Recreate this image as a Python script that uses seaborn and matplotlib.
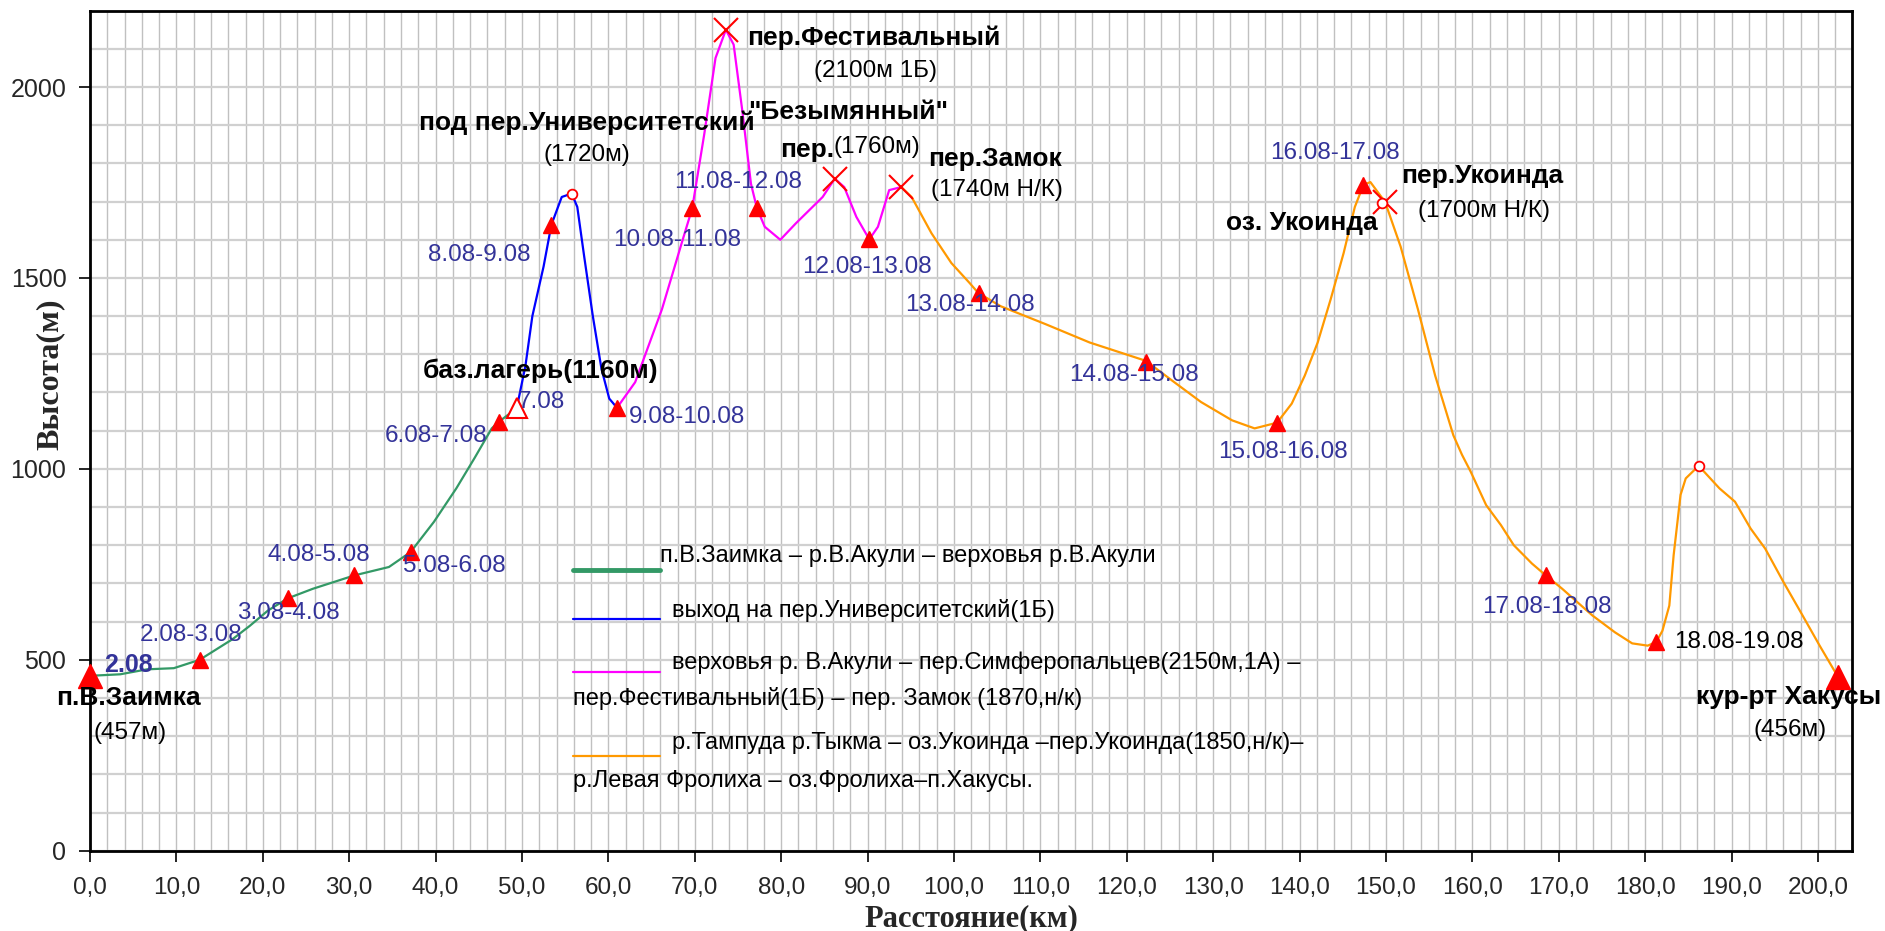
import matplotlib
matplotlib.use('Agg')
import matplotlib.pyplot as plt
import seaborn as sns
from matplotlib.lines import Line2D
from matplotlib.ticker import MultipleLocator, FuncFormatter

# profile segments (distance km, altitude m)
green_km = [0, 3.5, 6.6, 9.7, 12.7, 16.5, 18.5, 20.6, 22.9, 25.8, 30.6, 34.6, 37.1,
            39.8, 42.4, 44.5, 46.5, 47.3, 48.3, 49.4]
green_alt = [458, 462, 475, 478, 500, 554, 589, 629, 661, 686, 721, 743, 782,
             861, 949, 1028, 1106, 1123, 1140, 1160]

blue_km = [49.4, 50.4, 51.2, 52.5, 53.4, 54.6, 55.75, 56.4, 57.2, 58.2, 59.2, 60.1, 61.0]
blue_alt = [1160, 1270, 1400, 1530, 1639, 1712, 1721, 1686, 1556, 1400, 1262, 1184, 1160]

magenta_km = [61.0, 63.1, 66.2, 68.6, 69.7, 71.1, 72.4, 73.6, 74.5, 75.5, 76.5, 77.2, 78.1,
              79.9, 81.7, 84.8, 86.2, 87.3, 88.7, 90.2, 91.2, 92.5, 93.9]
magenta_alt = [1160, 1227, 1418, 1600, 1682, 1877, 2076, 2150, 2111, 1938, 1747, 1682, 1634,
               1600, 1643, 1712, 1760, 1738, 1660, 1601, 1634, 1730, 1738]

orange_km = [93.9, 95.1, 97.4, 99.7, 101.8, 102.8, 105.4, 110.6, 115.7, 122.2, 125.5, 128.6,
             132.2, 134.8, 137.4, 139.1, 140.6, 142.1, 143.6, 145.1, 146.4, 147.4, 148.2,
             149.9, 151.7, 153.7, 155.7, 157.8, 158.8, 159.8, 161.6, 163.3, 164.8, 166.9,
             168.5, 170.4, 173.9, 176.5, 178.5, 180.3, 181.3, 182.0, 182.8, 183.3, 184.1,
             184.7, 186.2, 188.6, 190.4, 192.2, 193.9, 196.0, 198.0, 200.2, 202.3]
orange_alt = [1738, 1712, 1617, 1539, 1487, 1461, 1426, 1379, 1331, 1283, 1227, 1175,
              1127, 1106, 1121, 1171, 1244, 1331, 1444, 1565, 1686, 1744, 1751,
              1699, 1582, 1418, 1244, 1088, 1037, 993, 905, 853, 800, 752,
              721, 686, 616, 572, 543, 537, 547, 576, 642, 774, 932,
              975, 1008, 949, 914, 844, 791, 704, 625, 537, 456]

# overnight stops
stop_km = [12.7, 22.9, 30.6, 37.1, 47.3, 53.4, 61.0, 69.7, 77.2, 90.2, 102.9, 122.2,
           137.4, 147.4, 168.5, 181.3]
stop_alt = [500, 661, 721, 782, 1123, 1639, 1160, 1682, 1682, 1601, 1460, 1280,
            1121, 1744, 721, 547]
end_km = [0, 202.3]
end_alt = [458, 456]
camp_km = [49.4]
camp_alt = [1160]
pass_km = [73.6, 86.2, 93.9, 149.9]
pass_alt = [2150, 1760, 1738, 1699]
peak_km = [55.75, 149.6, 186.2]
peak_alt = [1721, 1695, 1008]

# date labels
date_text = ['2.08-3.08', '3.08-4.08', '4.08-5.08', '5.08-6.08', '6.08-7.08', '7.08',
             '8.08-9.08', '9.08-10.08', '10.08-11.08', '11.08-12.08', '12.08-13.08',
             '13.08-14.08', '14.08-15.08', '15.08-16.08', '16.08-17.08', '17.08-18.08']
date_km = [11.7, 23.0, 26.5, 42.2, 40.1, 52.2, 45.0, 69.1, 68.0, 75.0, 89.9,
           101.8, 120.8, 138.1, 144.1, 168.6]
date_alt = [566, 623, 774, 746, 1086, 1175, 1561, 1135, 1600, 1750, 1528,
            1430, 1245, 1043, 1826, 638]

# place names (bold) and heights (normal)
name_text = ['п.В.Заимка', 'баз.лагерь(1160м)', 'под пер.Университетский', 'пер.Фестивальный',
             '"Безымянный"', 'пер.Замок', 'оз. Укоинда', 'пер.Укоинда', 'кур-рт Хакусы']
name_km = [4.4, 52.1, 57.5, 90.7, 87.7, 104.8, 140.3, 161.1, 196.6]
name_alt = [399, 1257, 1907, 2130, 1934, 1811, 1643, 1768, 403]
height_text = ['(457м)', '(1720м)', '(2100м 1Б)', '(1740м Н/К)', '(1700м Н/К)', '(456м)']
height_km = [4.6, 57.5, 90.9, 105.0, 161.3, 196.8]
height_alt = [308, 1822, 2043, 1730, 1676, 316]

legend_labels = ['п.В.Заимка – р.В.Акули – верховья р.В.Акули',
                 'выход на пер.Университетский(1Б)',
                 'верховья р. В.Акули – пер.Симферопальцев(2150м,1А) –',
                 'пер.Фестивальный(1Б) – пер. Замок (1870,н/к)',
                 'р.Тампуда р.Тыкма – оз.Укоинда –пер.Укоинда(1850,н/к)–',
                 'р.Левая Фролиха – оз.Фролиха–п.Хакусы.']

GREEN = '#339966'
BLUE = '#0000ff'
MAGENTA = '#ff00ff'
ORANGE = '#ff9900'
DATE_BLUE = '#333399'

sns.set_theme(style='white')
plt.rcParams['font.family'] = ['Liberation Sans', 'DejaVu Sans']

fig = plt.figure(figsize=(18.85, 9.31), dpi=100)
ax = fig.add_axes([0.04775, 0.08625, 0.935, 0.9023])

for xs, ys, c in [(green_km, green_alt, GREEN), (blue_km, blue_alt, BLUE),
                  (magenta_km, magenta_alt, MAGENTA), (orange_km, orange_alt, ORANGE)]:
    sns.lineplot(x=xs, y=ys, ax=ax, color=c, linewidth=1.6, sort=False, estimator=None, zorder=3)

ax.plot(stop_km, stop_alt, ls='none', marker='^', color='red', ms=11, zorder=5)
ax.plot(end_km, end_alt, ls='none', marker='^', color='red', ms=17, zorder=5, clip_on=False)
ax.plot(camp_km, camp_alt, ls='none', marker='^', mfc='white', mec='red', mew=1.5, ms=15, zorder=5)
ax.plot(pass_km, pass_alt, ls='none', marker='x', color='red', ms=17, mew=1.5, zorder=5)
ax.plot(peak_km, peak_alt, ls='none', marker='o', mfc='white', mec='red', mew=1.3, ms=7, zorder=6)

for s, x, y in zip(date_text, date_km, date_alt):
    ax.text(x, y, s, color=DATE_BLUE, fontsize=17.5, ha='center', va='center', zorder=7)
ax.text(4.5, 486, '2.08', color=DATE_BLUE, fontsize=18, fontweight='bold', ha='center', va='center')
ax.text(190.9, 547, '18.08-19.08', color='black', fontsize=17.5, ha='center', va='center')

for s, x, y in zip(name_text, name_km, name_alt):
    ax.text(x, y, s, color='black', fontsize=19, fontweight='bold', ha='center', va='center', zorder=7)
for s, x, y in zip(height_text, height_km, height_alt):
    ax.text(x, y, s, color='black', fontsize=17.5, ha='center', va='center', zorder=7)
ax.text(86.1, 1835, 'пер.', color='black', fontsize=19, fontweight='bold', ha='right', va='center')
ax.text(86.1, 1842, '(1760м)', color='black', fontsize=17.5, ha='left', va='center')

# legend drawn like the spreadsheet one
tr = ax.transAxes
leg_lines = [(0.3342, GREEN, 3.5), (0.2755, BLUE, 1.6), (0.2131, MAGENTA, 1.6), (0.1127, ORANGE, 1.6)]
for y, c, w in leg_lines:
    ax.add_line(Line2D([0.274, 0.3232], [y, y], transform=tr, color=c, lw=w, zorder=6))
leg_pos = [(0.3232, 0.3508), (0.3304, 0.2865), (0.3304, 0.2238), (0.274, 0.1814),
           (0.3304, 0.1286), (0.274, 0.083)]
for s, (x, y) in zip(legend_labels, leg_pos):
    ax.text(x, y, s, transform=tr, fontsize=17, color='black', ha='left', va='center')

ax.set_xlim(0, 204)
ax.set_ylim(0, 2200)
ax.xaxis.set_major_locator(MultipleLocator(10))
ax.xaxis.set_minor_locator(MultipleLocator(2))
ax.yaxis.set_major_locator(MultipleLocator(500))
ax.yaxis.set_minor_locator(MultipleLocator(100))
ax.xaxis.set_major_formatter(FuncFormatter(lambda v, p: f'{v:.1f}'.replace('.', ',')))
ax.grid(which='both', axis='x', color='#c0c0c0', lw=1.0)
ax.grid(which='both', axis='y', color='#d0d0d0', lw=1.6)
ax.set_axisbelow(True)
ax.tick_params(axis='x', which='major', direction='out', length=8, width=1.2, color='black',
               labelsize=17.5, pad=11, bottom=True)
ax.tick_params(axis='y', which='major', direction='out', length=8, width=1.2, color='black',
               labelsize=18, pad=9, left=True)
ax.tick_params(which='minor', length=0)
for sp in ax.spines.values():
    sp.set_color('black')
    sp.set_linewidth(2)

ax.set_xlabel('Расстояние(км)', family=['Liberation Serif'], fontweight='bold', fontsize=22)
ax.set_ylabel('Высота(м)', family=['Liberation Serif'], fontweight='bold', fontsize=23)
ax.xaxis.set_label_coords(0.5, -0.064)
ax.yaxis.set_label_coords(-0.0142, 0.5675)

fig.savefig('out.png', dpi=100)
